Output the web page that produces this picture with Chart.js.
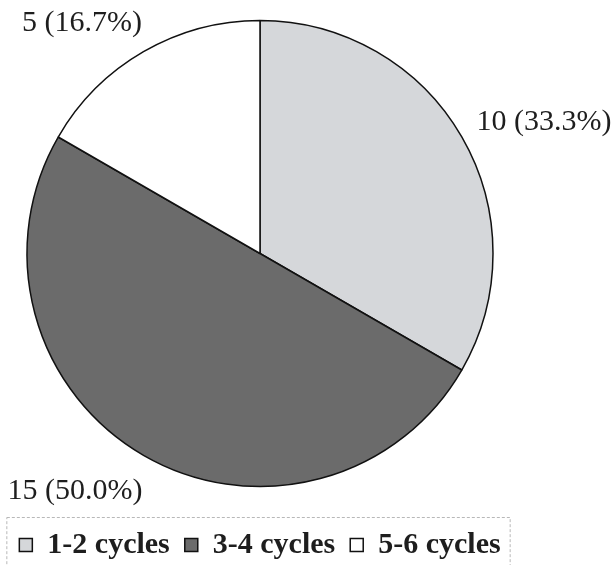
<!DOCTYPE html>
<html>
<head>
<meta charset="utf-8">
<script src="https://cdn.jsdelivr.net/npm/chart.js@4/dist/chart.umd.min.js"></script>
<style>
    html, body { margin: 0; padding: 0; background: #fff; }
    #wrap { position: relative; width: 614px; height: 565px; }
</style>
</head>
<body>
<div id="wrap"><canvas id="pieChart"></canvas></div>
<script>
// Data
const categories = ['1-2 cycles', '3-4 cycles', '5-6 cycles'];
const counts = [10, 15, 5];
const percentLabels = ['33.3%', '50.0%', '16.7%'];
const sliceColors = ['#d5d7da', '#6b6b6b', '#ffffff'];

// Value labels sit outside the pie, offset from its centre
const valueLabels = {
    id: 'valueLabels',
    afterDraw(chart, args, opts) {
        const ctx = chart.ctx;
        const arcs = chart.getDatasetMeta(0).data;
        ctx.save();
        ctx.font = '30px "Liberation Serif"';
        ctx.fillStyle = '#1e1e1e';
        ctx.textAlign = 'center';
        ctx.textBaseline = 'middle';
        arcs.forEach((arc, i) => {
            const off = opts.offsets[i];
            const text = counts[i] + ' (' + percentLabels[i] + ')';
            ctx.fillText(text, arc.x + off[0], arc.y + off[1]);
        });
        ctx.restore();
    }
};

// Frame around the legend, like the original
const legendFrame = {
    id: 'legendFrame',
    afterDraw(chart) {
        const boxes = chart.legend.legendHitBoxes;
        if (!boxes || !boxes.length) return;
        const first = boxes[0];
        const last = boxes[boxes.length - 1];
        const ctx = chart.ctx;
        ctx.save();
        ctx.strokeStyle = '#b8b8b8';
        ctx.lineWidth = 1;
        ctx.setLineDash([3, 2]);
        ctx.strokeRect(first.left - 12.5, first.top - 12.5, last.left + last.width - first.left + 22, 80);
        ctx.restore();
    }
};

function initChart() {
    const ctx = document.getElementById('pieChart').getContext('2d');
    new Chart(ctx, {
        type: 'pie',
        data: {
            labels: categories,
            datasets: [{
                data: counts,
                backgroundColor: sliceColors,
                borderColor: '#111111',
                borderWidth: 1.5,
                radius: 233
            }]
        },
        options: {
            responsive: true,
            maintainAspectRatio: false,
            animation: false,
            layout: {
                padding: { top: 0, bottom: -5, left: 0, right: 94 }
            },
            plugins: {
                tooltip: { enabled: false },
                legend: {
                    position: 'bottom',
                    // blank title only adds a little space above the legend row
                    title: { display: true, text: ' ', font: { size: 5 }, padding: 1 },
                    labels: {
                        boxWidth: 13,
                        boxHeight: 13,
                        padding: 15,
                        color: '#1e1e1e',
                        font: { family: '"Liberation Serif"', size: 30, weight: 'bold' }
                    }
                },
                valueLabels: {
                    offsets: [[284, -131], [-185, 238], [-178, -230]]
                }
            }
        },
        plugins: [valueLabels, legendFrame]
    });
}

document.addEventListener('DOMContentLoaded', initChart);
</script>
</body>
</html>
